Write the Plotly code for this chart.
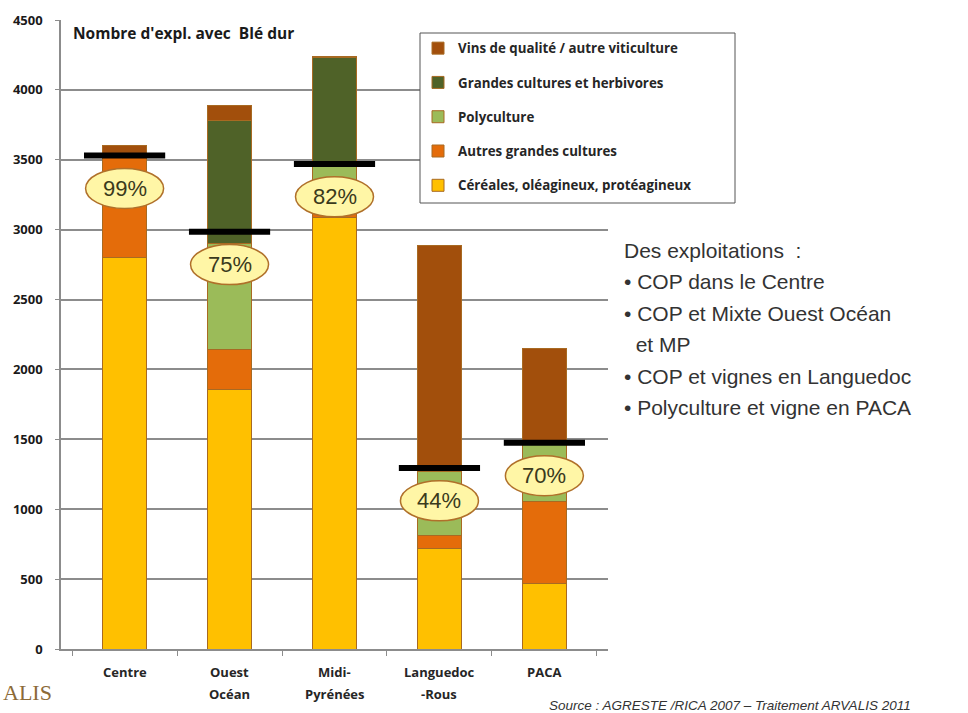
import plotly.graph_objects as go

# ---------------- data ----------------
categories = ["Centre", "Ouest Océan", "Midi-Pyrénées", "Languedoc-Rous", "PACA"]
tick_labels = [["Centre"], ["Ouest", "Océan"], ["Midi-", "Pyrénées"], ["Languedoc", "-Rous"], ["PACA"]]

cop = [2800, 1860, 3090, 722, 472]          # Céréales, oléagineux, protéagineux
autres = [720, 280, 150, 88, 580]           # Autres grandes cultures
poly = [10, 760, 230, 460, 420]             # Polyculture
grandes = [10, 880, 760, 20, 10]            # Grandes cultures et herbivores
vins = [60, 110, 10, 1600, 670]             # Vins de qualité / autre viticulture

marker_vals = [3530, 2985, 3470, 1295, 1475]
pct_labels = ["99%", "75%", "82%", "44%", "70%"]

y_ticks = [0, 500, 1000, 1500, 2000, 2500, 3000, 3500, 4000, 4500]

notes = [
    "Des exploitations  :",
    "• COP dans le Centre",
    "• COP et Mixte Ouest Océan",
    "  et MP",
    "• COP et vignes en Languedoc",
    "• Polyculture et vigne en PACA",
]

series = [
    ("Céréales, oléagineux, protéagineux", cop, "#FFC000"),
    ("Autres grandes cultures", autres, "#E46C0A"),
    ("Polyculture", poly, "#9BBB59"),
    ("Grandes cultures et herbivores", grandes, "#4F6228"),
    ("Vins de qualité / autre viticulture", vins, "#A24F0C"),
]

# ---------------- layout geometry (pixels) ----------------
W, H = 968, 713
L, R, T, B = 61, 360, 20, 64
PW, PH = W - L - R, H - T - B


def px(xp):
    return (xp - L) / PW


def py(yp):
    return (H - B - yp) / PH


BOLD = "Open Sans"

fig = go.Figure()

n = len(series)
for i, (name, vals, col) in enumerate(series):
    fig.add_trace(go.Bar(
        x=categories, y=vals, name=name, legendgroup=f"g{i}", legendrank=100 + (n - i),
        marker=dict(color=col, line=dict(color="#A86A22", width=1)),
        hoverinfo="y+name",
    ))

fig.add_trace(go.Scatter(
    x=categories, y=marker_vals, mode="markers", showlegend=False,
    marker=dict(symbol="line-ew", size=58, color="black",
                line=dict(color="black", width=6)),
    hoverinfo="y",
))

shapes = []
annotations = []

# legend frame
shapes.append(dict(
    type="rect", xref="paper", yref="paper",
    x0=px(420), x1=px(735), y0=py(203), y1=py(33),
    fillcolor="white", line=dict(color="#555555", width=1), layer="above",
))

OFF = 235
for c, v, t in zip(categories, marker_vals, pct_labels):
    shapes.append(dict(
        type="circle", xref="x", yref="y", xsizemode="pixel", ysizemode="pixel",
        xanchor=c, yanchor=v - OFF, x0=-39, x1=39, y0=-20, y1=20,
        fillcolor="#FFF6A6", line=dict(color="#B0702A", width=1.5), layer="above",
    ))
    annotations.append(dict(
        x=c, y=v - OFF, xref="x", yref="y", text=t, showarrow=False,
        font=dict(family="Liberation Sans", size=22, color="#3A3A1C"),
    ))

# category labels (two lines, wide spacing)
for c, lines in zip(categories, tick_labels):
    for k, ln in enumerate(lines):
        annotations.append(dict(
            x=c, y=0, xref="x", yref="paper", yshift=-23 - 22 * k, text=f"<b>{ln}</b>",
            showarrow=False, yanchor="middle",
            font=dict(family=BOLD, size=13, color="#262626"),
        ))

# chart title inside plot
annotations.append(dict(
    x=px(71), y=py(33), xref="paper", yref="paper", xanchor="left", yanchor="middle",
    text="<b>Nombre d'expl. avec  Blé dur</b>", showarrow=False,
    font=dict(family=BOLD, size=15.5, color="#1a1a1a"),
))

# right-hand notes
note_y = [250, 281, 313, 344, 376, 407]
for ln, yp in zip(notes, note_y):
    annotations.append(dict(
        x=px(622), y=py(yp), xref="paper", yref="paper", xanchor="left", yanchor="middle",
        text=ln.replace("  ", "&nbsp;&nbsp;"), showarrow=False,
        font=dict(family="Liberation Sans", size=21, color="#333333"),
    ))

# source
annotations.append(dict(
    x=px(730), y=py(705), xref="paper", yref="paper", xanchor="center", yanchor="middle",
    text="<i>Source : AGRESTE /RICA 2007 – Traitement ARVALIS 2011</i>", showarrow=False,
    font=dict(family="Liberation Sans", size=13.5, color="#333333"),
))

# logo remnant
annotations.append(dict(
    x=px(1), y=py(692), xref="paper", yref="paper", xanchor="left", yanchor="middle",
    text="ALIS", showarrow=False,
    font=dict(family="Liberation Serif", size=22, color="#8C6A38"),
))

fig.update_layout(
    width=W, height=H,
    margin=dict(l=L, r=R, t=T, b=B, pad=0),
    paper_bgcolor="white", plot_bgcolor="white",
    barmode="stack", bargap=0.58,
    showlegend=True,
    legend=dict(
        x=px(418), y=py(33), xanchor="left", yanchor="top",
        traceorder="grouped", tracegroupgap=14,
        bgcolor="rgba(0,0,0,0)", borderwidth=0,
        font=dict(family=BOLD, size=13.3, color="#262626", weight="bold"),
    ),
    shapes=shapes, annotations=annotations,
    font=dict(family=BOLD),
)

fig.update_xaxes(
    showticklabels=False, showline=True, linecolor="#8c8c8c", linewidth=1.5,
    ticks="outside", tickson="boundaries", ticklen=5, tickcolor="#8c8c8c",
    showgrid=False, fixedrange=True,
)
fig.update_yaxes(
    range=[0, 4500], tickvals=y_ticks, ticktext=[f"<b>{v}</b>" for v in y_ticks],
    showline=True, linecolor="#8c8c8c", linewidth=1.5,
    showgrid=True, gridcolor="#8c8c8c", gridwidth=1.5,
    ticks="outside", ticklen=4, tickcolor="#8c8c8c", ticklabelstandoff=10,
    tickfont=dict(family=BOLD, size=13, color="#1a1a1a"),
    zeroline=False, fixedrange=True,
)

fig.write_html("out.html")
